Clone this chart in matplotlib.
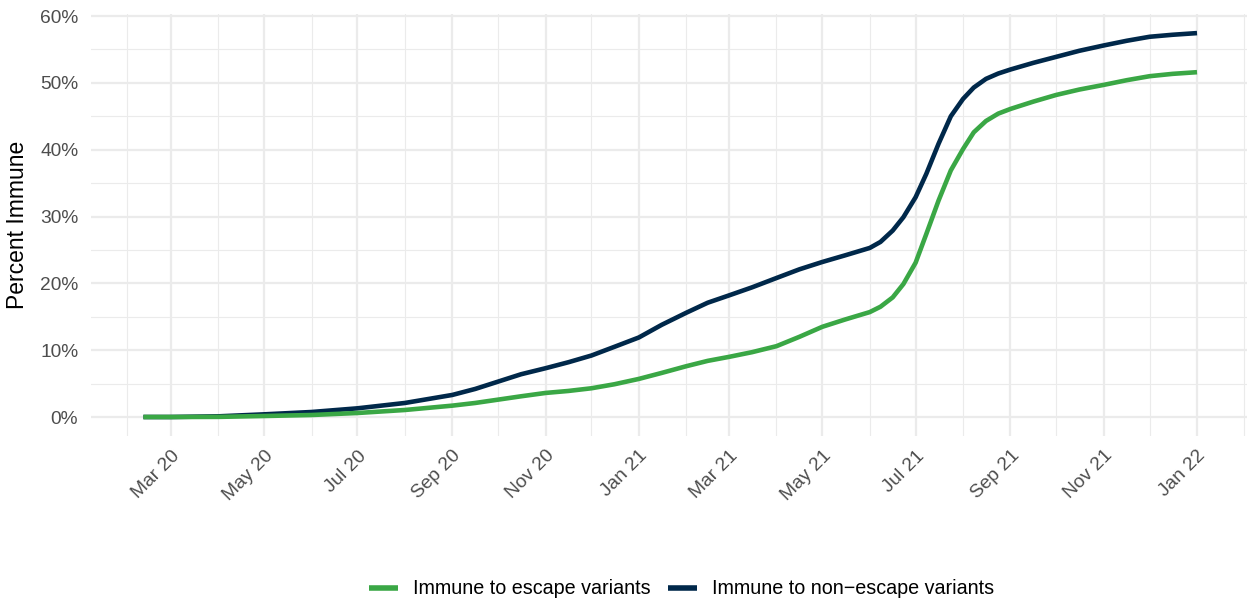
import matplotlib
matplotlib.use("Agg")
import matplotlib.pyplot as plt
import matplotlib.dates as mdates
from matplotlib.ticker import FixedLocator, FuncFormatter
import numpy as np
import pandas as pd

dates = pd.to_datetime([
    "2020-02-12", "2020-03-01", "2020-04-01", "2020-05-01", "2020-06-01",
    "2020-07-01", "2020-08-01", "2020-09-01", "2020-09-16", "2020-10-01",
    "2020-10-16", "2020-11-01", "2020-11-16", "2020-12-01", "2020-12-16",
    "2021-01-01", "2021-01-16", "2021-02-01", "2021-02-15", "2021-03-01",
    "2021-03-16", "2021-04-01", "2021-04-16", "2021-05-01", "2021-05-16",
    "2021-06-01", "2021-06-08", "2021-06-16", "2021-06-23", "2021-07-01",
    "2021-07-08", "2021-07-16", "2021-07-24", "2021-08-01", "2021-08-08",
    "2021-08-16", "2021-08-24", "2021-09-01", "2021-09-16", "2021-10-01",
    "2021-10-16", "2021-11-01", "2021-11-16", "2021-12-01", "2021-12-16",
    "2022-01-01",
])

non_escape = [
    0.0, 0.0, 0.1, 0.4, 0.75,
    1.3, 2.1, 3.3, 4.2, 5.3,
    6.4, 7.3, 8.2, 9.2, 10.5,
    11.9, 13.8, 15.6, 17.1, 18.2,
    19.4, 20.8, 22.1, 23.2, 24.2,
    25.3, 26.2, 27.9, 29.9, 32.9,
    36.4, 40.9, 45.0, 47.6, 49.3,
    50.6, 51.4, 52.0, 53.0, 53.9,
    54.8, 55.6, 56.3, 56.9, 57.2,
    57.45,
]

escape = [
    0.0, 0.0, 0.02, 0.15, 0.3,
    0.6, 1.05, 1.7, 2.1, 2.6,
    3.1, 3.6, 3.9, 4.3, 4.9,
    5.7, 6.6, 7.6, 8.4, 9.0,
    9.7, 10.6, 12.0, 13.5, 14.6,
    15.7, 16.5, 17.9, 19.9, 23.1,
    27.4, 32.4, 36.9, 40.1, 42.6,
    44.3, 45.4, 46.1, 47.2, 48.2,
    49.0, 49.7, 50.4, 51.0, 51.35,
    51.6,
]

series_labels = ["Immune to escape variants", "Immune to non\u2212escape variants"]
series_colors = ["#3AA745", "#00284A"]

major_ticks = pd.to_datetime(["2020-03-01", "2020-05-01", "2020-07-01", "2020-09-01",
                              "2020-11-01", "2021-01-01", "2021-03-01", "2021-05-01",
                              "2021-07-01", "2021-09-01", "2021-11-01", "2022-01-01"])
tick_labels = ["Mar 20", "May 20", "Jul 20", "Sep 20", "Nov 20", "Jan 21",
               "Mar 21", "May 21", "Jul 21", "Sep 21", "Nov 21", "Jan 22"]
minor_ticks = pd.to_datetime(["2020-02-01", "2020-04-01", "2020-06-01", "2020-08-01",
                              "2020-10-01", "2020-12-01", "2021-02-01", "2021-04-01",
                              "2021-06-01", "2021-08-01", "2021-10-01", "2021-12-01",
                              "2022-02-01"])
y_major = [0, 10, 20, 30, 40, 50, 60]
y_minor = [5, 15, 25, 35, 45, 55]

plt.rcParams['font.family'] = ['Liberation Sans', 'DejaVu Sans']

W, H = 1247, 602
fig = plt.figure(figsize=(W / 100, H / 100), dpi=100)
ax = fig.add_axes([90.7 / W, 1 - 436.2 / H, 1159 / W, (436.2 - 13.9) / H])

x0 = mdates.date2num(dates.min())
x1 = mdates.date2num(dates.max())
pad = 0.05 * (x1 - x0)
ax.set_xlim(x0 - pad, x1 + pad)
ymax = max(non_escape)
ax.set_ylim(-0.05 * ymax, ymax * 1.05)

grid_c = "#EBEBEB"
for t in minor_ticks:
    ax.axvline(t, color=grid_c, lw=0.8, zorder=0)
for t in major_ticks:
    ax.axvline(t, color=grid_c, lw=1.6, zorder=0)
for v in y_minor:
    ax.axhline(v, color=grid_c, lw=0.8, zorder=0)
for v in y_major:
    ax.axhline(v, color=grid_c, lw=1.6, zorder=0)

ax.plot(dates, escape, color=series_colors[0], lw=3.3, label=series_labels[0],
        solid_capstyle='butt', solid_joinstyle='round', zorder=3)
ax.plot(dates, non_escape, color=series_colors[1], lw=3.3, label=series_labels[1],
        solid_capstyle='butt', solid_joinstyle='round', zorder=2)

for s in ax.spines.values():
    s.set_visible(False)

ax.xaxis.set_major_locator(FixedLocator(mdates.date2num(major_ticks)))
ax.set_xticklabels(tick_labels, rotation=45, ha='right', va='top',
                   rotation_mode='anchor', color="#4D4D4D", fontsize=13.8)
ax.yaxis.set_major_locator(FixedLocator(y_major))
ax.yaxis.set_major_formatter(FuncFormatter(lambda v, p: f"{int(v)}%"))
for lab in ax.get_yticklabels():
    lab.set_color("#4D4D4D")
    lab.set_fontsize(13.8)
ax.tick_params(axis='both', length=0)
ax.tick_params(axis='y', pad=9)
ax.tick_params(axis='x', pad=8)

ax.set_ylabel("Percent Immune", fontsize=16.5, color="black", labelpad=8)

handles, labels = ax.get_legend_handles_labels()
leg = fig.legend(handles, labels, loc='center', ncol=2,
                 bbox_to_anchor=(681.5 / W, 1 - 589 / H), frameon=False,
                 fontsize=14.2, handlelength=1.5, handletextpad=0.75,
                 columnspacing=0.85)
for line in leg.get_lines():
    line.set_linewidth(4)

fig.savefig("out.png", dpi=100, facecolor="white")
